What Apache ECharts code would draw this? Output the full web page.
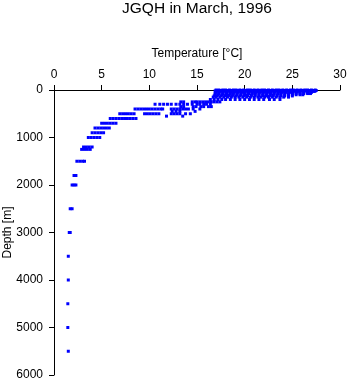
<!DOCTYPE html>
<html>
<head>
<meta charset="utf-8">
<script src="https://cdn.jsdelivr.net/npm/echarts@6/dist/echarts.min.js"></script>
<style>
  html, body { margin: 0; padding: 0; background: #fff; }
  #chart { width: 348px; height: 384px; }
</style>
</head>
<body>
<div id="chart"></div>
<script>
// standard sampling depths (m)
var depths = [0, 10, 20, 30, 50, 75, 100, 125, 150, 200, 250, 300, 350, 400, 450, 500, 550,
              600, 700, 800, 900, 1000, 1200, 1250, 1500, 1800, 2000, 2500, 3000, 3500,
              4000, 4500, 5000, 5500];

// temperatures (°C) read at each depth above, one row per depth
var temps = [
    [17.0,17.3,17.7,18.0,18.4,18.8,19.1,19.5,19.9,20.3,20.6,21.0,21.4,21.8,22.1,22.5,22.9,23.3,23.6,24.0,24.4,24.8,25.1,25.5,25.9,26.3,26.6,27.0,27.4],
    [17.1,17.5,17.8,18.2,18.6,18.9,19.3,19.7,20.1,20.4,20.8,21.2,21.6,21.9,22.3,22.7,23.1,23.4,23.8,24.2,24.6,24.9,25.3,25.7,26.1,26.4,26.8,27.2,27.5],
    [16.9,17.2,17.6,18.1,18.5,18.8,19.2,19.6,20.0,20.4,20.7,21.1,21.5,21.9,22.2,22.6,23.0,23.4,23.7,24.1,24.5,24.9,25.2,25.6,26.0,26.4,26.7,27.1,27.4],
    [17.0,17.4,17.8,18.2,18.6,19.0,19.4,19.8,20.2,20.6,21.0,21.3,21.7,22.1,22.5,22.8,23.2,23.6,24.0,24.3,24.7,25.1,25.5,25.8,26.2,26.6,27.0,27.3],
    [17.0,17.3,17.7,18.1,18.5,18.9,19.3,19.7,20.0,20.4,20.8,21.2,21.6,22.0,22.4,22.7,23.1,23.5,23.9,24.3,24.7,25.0,25.4,25.8,26.2,26.6,27.0],
    [16.9,17.3,17.7,18.1,18.5,18.8,19.2,19.6,20.0,20.4,20.8,21.1,21.5,21.9,22.3,22.7,23.1,23.5,23.8,24.2,24.6,25.0,25.4,25.8,26.2,26.6,26.9],
    [16.9,17.2,17.6,18.0,18.4,18.8,19.2,19.6,20.0,20.3,20.7,21.1,21.5,21.9,22.3,22.7,23.0,23.4,23.8,24.2,24.6,25.0,25.4,25.8,26.1],
    [16.8,17.1,17.5,17.9,18.3,18.7,19.1,19.5,19.9,20.3,20.7,21.1,21.5,21.9,22.2,22.6,23.0,23.4,23.8,24.2,24.6,25.0],
    [16.7,17.0,17.4,17.8,18.2,18.6,19.0,19.4,19.8,20.2,20.6,21.0,21.4,21.7,22.1,22.5,22.9,23.3,23.7,24.1,24.6],
    [16.4,16.8,17.2,17.6,18.0,18.5,19.0,19.5,20.0,20.5,21.0,21.5,22.0,22.6,23.1,23.7],
    [13.3,13.6,14.5,14.8,15.0,15.3,15.6,15.9,16.2,16.5,16.8,17.1,17.4],
    [10.6,11.1,11.5,11.9,12.3,12.8,13.2,13.6,14.0,14.5,15.0,15.3,15.7,16.0,16.4],
    [13.3,13.6,14.6,14.9,15.4,15.7,16.2,16.5],
    [8.5,8.8,9.1,9.4,9.7,10.0,10.3,10.6,10.9,11.2,11.4,12.3,12.6,12.9,13.2,13.5,13.8,14.1,14.6,15.3],
    [12.4,12.8,13.2,14.8],
    [6.9,7.2,7.5,7.8,8.1,8.4,9.5,9.8,10.1,10.4,10.7,11.0,12.3,12.6,12.9,13.2,13.8,14.3],
    [11.8,13.5],
    [5.9,6.2,6.5,6.8,7.1,7.4,7.7,8.0,8.3,8.6],
    [5.0,5.3,5.6,5.9,6.2,6.5],
    [4.3,4.6,4.9,5.2,5.5,5.8],
    [4.0,4.3,4.6,4.9,5.2],
    [3.6,3.9,4.2,4.5,4.8],
    [3.1,3.4,3.7,4.0],
    [2.9,3.2,3.5,3.8],
    [2.4,2.7,3.0,3.2],
    [2.1,2.3],
    [1.9,2.1,2.3],
    [1.7,1.9],
    [1.6,1.7],
    [1.5],
    [1.5],
    [1.45],
    [1.45],
    [1.5]
];

var tempTicks = [0, 30, 5];     // min, max, step
var depthTicks = [0, 6000, 1000];

var points = [];
depths.forEach(function (d, i) {
    temps[i].forEach(function (t) { points.push([t, d]); });
});

var myChart = echarts.init(document.getElementById('chart'), null, {renderer: 'canvas'});

var font = 'Liberation Sans, Arial, sans-serif';
var axisText = {color: '#000', fontFamily: font, fontSize: 12};

option = {
    animation: false,
    title: {
        text: 'JGQH in March, 1996',
        left: 197,
        top: 1,
        padding: 0,
        textAlign: 'center',
        textStyle: {color: '#000', fontWeight: 'normal', fontSize: 15.5, fontFamily: font}
    },
    grid: {left: 54, top: 90, width: 286, height: 285, containLabel: false, outerBoundsMode: 'none'},
    xAxis: {
        type: 'value',
        position: 'top',
        min: tempTicks[0],
        max: tempTicks[1],
        interval: tempTicks[2],
        name: 'Temperature [°C]',
        nameLocation: 'middle',
        nameGap: 30,
        nameMoveOverlap: false,
        nameTextStyle: axisText,
        axisLine: {show: true, onZero: false, lineStyle: {color: '#000', width: 1}},
        axisTick: {show: true, length: 5, lineStyle: {color: '#000'}},
        axisLabel: {margin: 9, color: '#000', fontFamily: font, fontSize: 12},
        splitLine: {show: false}
    },
    yAxis: {
        type: 'value',
        inverse: true,
        min: depthTicks[0],
        max: depthTicks[1],
        interval: depthTicks[2],
        name: 'Depth [m]',
        nameLocation: 'middle',
        nameGap: 40,
        nameMoveOverlap: false,
        nameTextStyle: axisText,
        axisLine: {show: true, onZero: false, lineStyle: {color: '#000', width: 1}},
        axisTick: {show: true, length: 5, lineStyle: {color: '#000'}},
        axisLabel: {
            margin: 11, color: '#000', fontFamily: font, fontSize: 12,
            formatter: function (v) { return String(v); }
        },
        splitLine: {show: false}
    },
    series: [
        {
            type: 'scatter',
            symbol: 'rect',
            symbolSize: [3, 3],
            itemStyle: {color: '#0000ff', opacity: 1},
            data: points
        }
    ]
};

myChart.setOption(option);
</script>
</body>
</html>
